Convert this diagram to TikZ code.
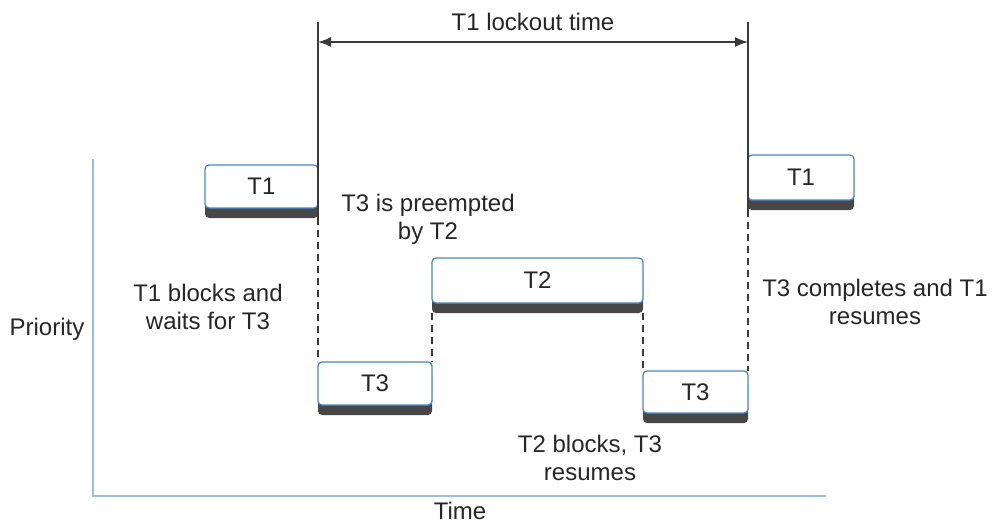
\documentclass[tikz,border=0pt]{standalone}
\usepackage{fontspec}
\setmainfont{Liberation Sans}
\usetikzlibrary{arrows.meta,shadows}
\definecolor{boxblue}{HTML}{4A86C8}
\definecolor{axisblue}{HTML}{9DBDE5}
\definecolor{shade}{HTML}{474747}
\definecolor{ink}{HTML}{262626}
\definecolor{linec}{HTML}{3A3A3A}
\begin{document}
\begin{tikzpicture}[x=1pt,y=-1pt,
  font=\fontsize{24}{28}\selectfont, text=ink,
  task/.style={draw=boxblue, line width=1.3pt, fill=white, rounded corners=4pt,
    inner sep=0pt, outer sep=0pt,
    drop shadow={shadow xshift=0pt, shadow yshift=-10pt, fill=shade, opacity=1}},
  lbl/.style={align=center, inner sep=0pt},
  vline/.style={draw=linec, line width=1.5pt},
  dline/.style={draw=linec, line width=1.1pt, dash pattern=on 7pt off 5pt},
  axisline/.style={draw=axisblue, line width=1.6pt},
  >={Latex[length=13pt,width=10pt]}]
\useasboundingbox (0,0) rectangle (993,524);

% axes
\coordinate (ytop) at (93,159);
\coordinate (orig) at (93,496);
\coordinate (xend) at (826,496);
\draw[axisline] (ytop) -- (orig) -- (xend);

% task boxes
\node[task, minimum width=113pt, minimum height=43pt] (t1a) at (261.5,186.5) {T1};
\node[task, minimum width=114pt, minimum height=43pt] (t3a) at (375,383.5) {T3};
\node[task, minimum width=211pt, minimum height=45pt] (t2)  at (537.5,280.5) {T2};
\node[task, minimum width=105pt, minimum height=42pt] (t3b) at (695.5,392) {T3};
\node[task, minimum width=106pt, minimum height=45pt] (t1b) at (801,177.5) {T1};

% vertical lines
\coordinate (la) at (318,22);
\coordinate (ra) at (748,22);
\draw[vline] (la) -- ([yshift=-10pt]t1a.south east);
\draw[dline] ([yshift=-10pt]t1a.south east) -- (t3a.north west);
\draw[dline] ([yshift=-10pt]t2.south west) -- (t3a.north east);
\draw[dline] ([yshift=-10pt]t2.south east) -- (t3b.north west);
\draw[vline] (ra) -- ([yshift=-10pt]t1b.south west);
\draw[dline] ([yshift=-10pt]t1b.south west) -- (t3b.north east);

% lockout arrow
\coordinate (al) at (318,42);
\coordinate (ar) at (748,42);
\draw[linec, line width=1.5pt, <->] (al) -- (ar);

% labels
\node[lbl, anchor=base] (lock) at (533,31) {T1 lockout time};
\node[lbl] (pre) at (428,219) {T3 is preempted\\by T2};
\node[lbl] (blk) at (208,307) {T1 blocks and\\waits for T3};
\node[lbl] (cmp) at (875,302) {T3 completes and T1\\resumes};
\node[lbl] (res) at (590,458) {T2 blocks, T3\\resumes};
\node[lbl, anchor=base] (prio) at (47,335) {Priority};
\node[lbl, anchor=base] (time) at (460,519) {Time};
\end{tikzpicture}
\end{document}
